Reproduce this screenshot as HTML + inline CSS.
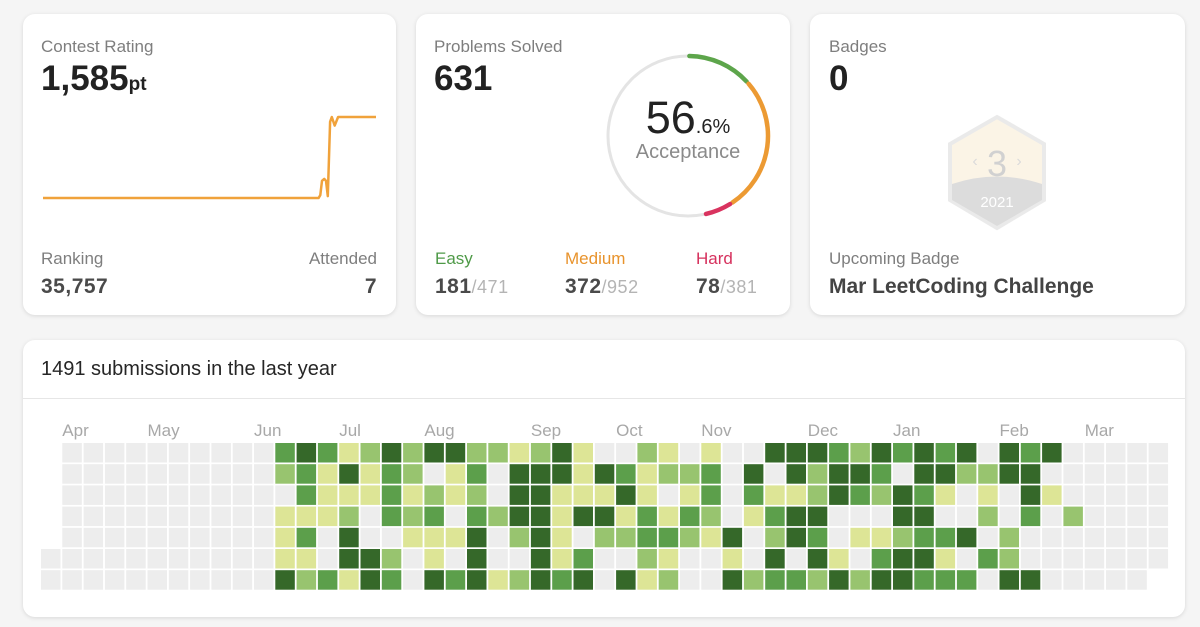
<!DOCTYPE html>
<html><head><meta charset="utf-8">
<style>
*{box-sizing:border-box;margin:0;padding:0}
body{width:1200px;height:627px;background:#f5f5f5;font-family:"Liberation Sans",sans-serif;position:relative;overflow:hidden}
.card{position:absolute;background:#fff;border-radius:12px;box-shadow:0 1px 4px rgba(0,0,0,.12)}
.lbl{position:absolute;font-size:17px;color:#7e7e7e}
.big{position:absolute;font-size:35px;font-weight:bold;color:#222}
.val{position:absolute;font-size:21px;font-weight:bold;color:#4a4a4a;letter-spacing:.5px}
.sub{font-weight:normal;color:#b4b4b4;font-size:18px}
</style></head><body>
<div class="card" style="left:23px;top:14px;width:373px;height:301px">
 <div class="lbl" style="left:18px;top:23px">Contest Rating</div>
 <div class="big" style="left:18px;top:45px">1,585<span style="font-size:19px">pt</span></div>
 <svg id="rating" style="position:absolute;left:0;top:0" width="373" height="230"></svg>
 <div class="lbl" style="left:18px;top:235px">Ranking</div>
 <div class="val" style="left:18px;top:261px">35,757</div>
 <div class="lbl" style="right:19px;top:235px">Attended</div>
 <div class="val" style="right:19px;top:261px">7</div>
</div>
<div class="card" style="left:416px;top:14px;width:374px;height:301px">
 <div class="lbl" style="left:18px;top:23px">Problems Solved</div>
 <div class="big" style="left:18px;top:45px">631</div>
 <svg id="donut" style="position:absolute;left:0;top:0" width="374" height="240"></svg>
 <div style="position:absolute;left:172px;width:200px;text-align:center;top:78px;font-size:45px;color:#222">56<span style="font-size:20px">.6%</span></div>
 <div style="position:absolute;left:172px;width:200px;text-align:center;top:127px;font-size:20px;color:#8a8a8a">Acceptance</div>
 <div class="lbl" style="left:19px;top:235px;color:#4f9a48">Easy</div>
 <div class="val" style="left:19px;top:261px">181<span class="sub">/471</span></div>
 <div class="lbl" style="left:149px;top:235px;color:#e8932c">Medium</div>
 <div class="val" style="left:149px;top:261px">372<span class="sub">/952</span></div>
 <div class="lbl" style="left:280px;top:235px;color:#d6305d">Hard</div>
 <div class="val" style="left:280px;top:261px">78<span class="sub">/381</span></div>
</div>
<div class="card" style="left:810px;top:14px;width:375px;height:301px">
 <div class="lbl" style="left:19px;top:23px">Badges</div>
 <div class="big" style="left:19px;top:45px">0</div>
 <svg style="position:absolute;left:135px;top:100px;opacity:.3" width="105" height="118">
  <polygon points="52,3 99,30 99,86 52,114 5,86 5,30" fill="#f4dcb0" stroke="#bcbcbc" stroke-width="4"/>
  <path d="M7,70 Q52,55 97,70 L97,86 L52,112 L7,86Z" fill="#8e8e8e"/>
  <text x="52" y="62" text-anchor="middle" font-size="36" fill="#6a6a6a" font-family="Liberation Sans">3</text>
  <text x="30" y="52" text-anchor="middle" font-size="16" fill="#888">‹</text>
  <text x="74" y="52" text-anchor="middle" font-size="16" fill="#888">›</text>
  <text x="52" y="93" text-anchor="middle" font-size="15" fill="#fff" font-family="Liberation Sans">2021</text>
 </svg>
 <div class="lbl" style="left:19px;top:235px">Upcoming Badge</div>
 <div style="position:absolute;left:19px;top:261px;font-size:21px;font-weight:bold;color:#444">Mar LeetCoding Challenge</div>
</div>
<div class="card" style="left:23px;top:340px;width:1162px;height:277px">
 <div style="position:absolute;left:18px;top:18px;font-size:20px;color:#262626">1491 submissions in the last year</div>
 <div style="position:absolute;left:0;right:0;top:58px;border-top:1px solid #e6e6e6"></div>
</div>
<svg id="heat" style="position:absolute;left:0;top:0" width="1200" height="627"></svg>
<script>
// rating chart data
const contestIdx=[0,4,8,12,16,20,24,28,32,36,40,44,48];
const ratings=[1500,1500,1500,1500,1500,1500,1500,1500,1500,1500,1500,1500,1500];
// final contest points (late jumps)
const lateIdx=[48.3,48.6,49,49.3,49.6,50,50.3,50.8,51.4,52,54,56,58];
const lateRatings=[1503,1518,1520,1518,1502,1580,1585,1576,1585,1585,1585,1585,1585];
// problems data
const solvedCats=["Easy","Medium","Hard"];
const solvedVals=[181,372,78];
const solvedColors=["#5da54b","#ec9a33","#d9335f"];
// heatmap data: levels per weekday row (0-4), 53 weeks
const months=["Apr","May","Jun","Jul","Aug","Sep","Oct","Nov","Dec","Jan","Feb","Mar"];
const monthWeek=[1,5,10,14,18,23,27,31,36,40,45,49];
const row0=[-1,0,0,0,0,0,0,0,0,0,0,3,4,3,1,2,4,2,4,4,2,2,1,2,4,1,0,0,2,1,0,1,0,0,4,4,4,3,2,4,3,4,3,4,0,4,3,4,0,0,0,0,0];
const row1=[-1,0,0,0,0,0,0,0,0,0,0,2,3,1,4,1,3,2,0,1,3,0,4,4,4,1,4,3,1,2,2,3,0,4,0,4,2,4,4,3,0,4,4,2,2,4,4,0,0,0,0,0,0];
const row2=[-1,0,0,0,0,0,0,0,0,0,0,0,3,1,1,1,3,1,2,1,2,0,4,4,1,1,1,4,1,0,1,3,0,3,1,1,2,4,3,2,4,3,1,0,1,0,4,1,0,0,0,0,0];
const row3=[-1,0,0,0,0,0,0,0,0,0,0,1,1,1,2,0,3,2,3,0,3,2,4,4,1,4,4,1,3,1,3,2,0,1,3,4,4,0,0,0,4,4,0,0,2,0,3,0,2,0,0,0,0];
const row4=[-1,0,0,0,0,0,0,0,0,0,0,1,3,0,4,0,0,1,1,1,4,0,2,4,1,0,2,2,3,3,2,1,4,0,2,4,3,0,1,1,2,3,3,4,0,2,0,0,0,0,0,0,0];
const row5=[0,0,0,0,0,0,0,0,0,0,0,1,1,0,4,4,2,0,1,0,4,0,0,4,1,3,0,0,2,1,0,0,1,0,4,0,4,1,0,3,4,4,1,0,3,2,0,0,0,0,0,0,0];
const row6=[0,0,0,0,0,0,0,0,0,0,0,4,2,3,1,4,3,0,4,3,4,1,2,4,3,4,0,4,1,2,0,0,4,2,3,3,2,4,2,4,4,3,3,3,0,4,4,0,0,0,0,0,-1];
const levelColors=["#ededed","#dde596","#98c46f","#5c9f4b","#356829"];
const NS="http://www.w3.org/2000/svg";
function mk(tag,attrs,parent){const e=document.createElementNS(NS,tag);for(const k in attrs)e.setAttribute(k,attrs[k]);parent.appendChild(e);return e;}

// rating line
(function(){
 const svg=document.getElementById('rating');
 const allX=contestIdx.concat(lateIdx), allY=ratings.concat(lateRatings);
 const xS=i=>20+i*(333/58), yS=r=>184-(r-1500)*(81/85);
 const d=allX.map((x,i)=>(i?'L':'M')+xS(x).toFixed(1)+','+yS(allY[i]).toFixed(1)).join(' ');
 const p=mk('path',{d:d,fill:'none',stroke:'#f0a23b','stroke-width':2.5,'stroke-linejoin':'round'},svg);
 
 
})();

// donut
(function(){
 const svg=document.getElementById('donut');
 const cx=272,cy=122,r=80;
 const c=mk('circle',{cx:cx,cy:cy,r:r,fill:'none',stroke:'#e4e4e4','stroke-width':3},svg);
 
 
 const degPer=168/631;
 let a=0;
 solvedVals.forEach((v,i)=>{
  const a0=a, a1=a+v*degPer; a=a1;
  const pt=t=>[cx+r*Math.sin(t*Math.PI/180), cy-r*Math.cos(t*Math.PI/180)];
  const [x0,y0]=pt(a0+1),[x1,y1]=pt(a1-1);
  const arc=mk('path',{d:`M${x0},${y0} A${r},${r} 0 ${a1-a0>180?1:0} 1 ${x1},${y1}`,fill:'none',stroke:solvedColors[i],'stroke-width':4.5,'stroke-linecap':'round'},svg);
  
  
 });
})();

// heatmap
(function(){
 const svg=document.getElementById('heat');
 const rows=[row0,row1,row2,row3,row4,row5,row6];
 const xW=w=>41+w*21.3, yD=d=>443+d*21.2, cs=19.5;
 months.forEach((m,i)=>{
  const t=mk('text',{x:xW(monthWeek[i]),y:436,'font-size':17,fill:'#a8a8a8','font-family':'Liberation Sans'},svg);
  t.textContent=m;
  
  
 });
 rows.forEach((row,d)=>row.forEach((lv,w)=>{
  if(lv<0)return;
  const r=mk('rect',{x:xW(w),y:yD(d),width:cs,height:cs,fill:levelColors[lv]},svg);
  
  
 }));
})();
</script>
</body></html>
